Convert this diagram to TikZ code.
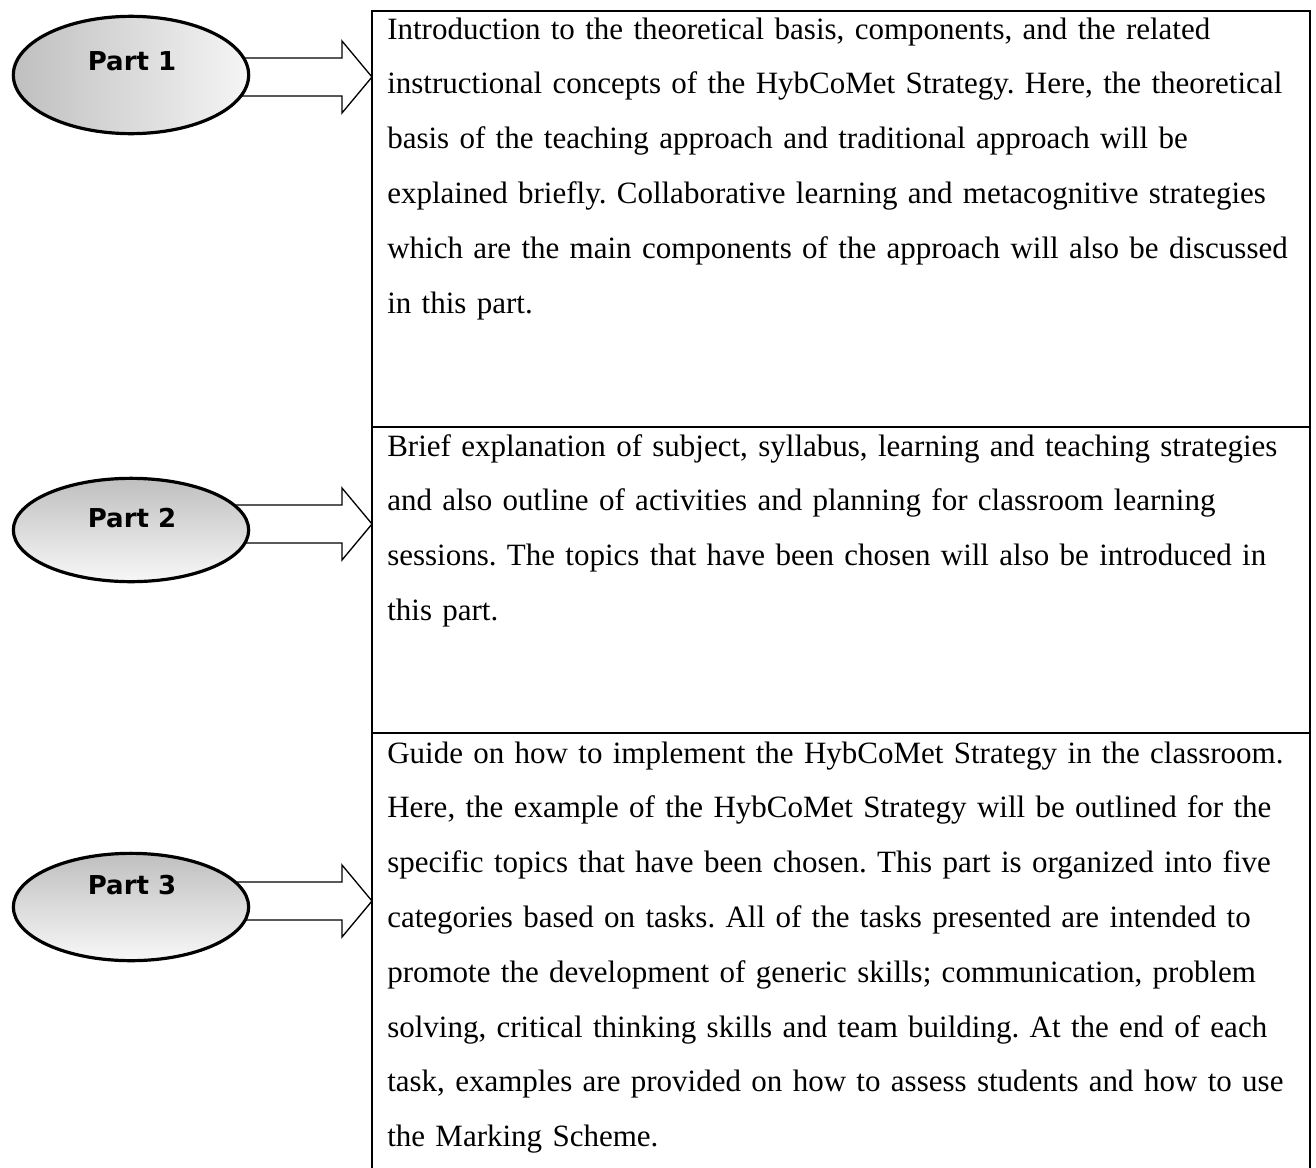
\documentclass[tikz,border=0pt]{standalone}
\usepackage{fontspec}
\setmainfont{Liberation Serif}
\newfontfamily\labelfont{DejaVu Sans}
\usetikzlibrary{shapes.geometric,calc,fit,backgrounds}
\frenchspacing

% block arrow from an oval to a tip point on the table edge
\newcommand\partarrow[2]{%
  \draw[blockarrow] ($(#1.east |- #2)+(-14,-19)$) -- ($(#2)+(-30,-19)$)
    -- ($(#2)+(-30,-36)$) -- (#2) -- ($(#2)+(-30,36)$)
    -- ($(#2)+(-30,19)$) -- ($(#1.east |- #2)+(-14,19)$) -- cycle;}

\begin{document}
\begin{tikzpicture}[x=0.75pt,y=-0.75pt,
  cell/.style={draw, line width=1.5pt, inner sep=0pt},
  celltext/.style={anchor=base west, inner sep=0pt, align=left, text width=720pt,
    font=\fontsize{23.25}{41.1}\selectfont},
  partoval/.style={ellipse, draw, line width=2.4pt, minimum width=176.5pt, inner sep=0pt},
  partlabel/.style={font=\labelfont\bfseries\fontsize{19.5}{23}\selectfont, inner sep=0pt},
  blockarrow/.style={draw, fill=white, line width=1pt, line join=miter}
]
\clip (0,0) rectangle (1316,1167);

% table cells
\node[cell, fit={(372,11) (1310,427)}] (c1) {};
\node[cell, fit={(372,427) (1310,733)}] (c2) {};
\node[cell, fit={(372,733) (1310,1220)}] (c3) {};

% cell texts
\node[celltext] (t1) at (387,39) {Introduction to the theoretical basis, components, and the related\\
instructional concepts of the HybCoMet Strategy. Here, the theoretical\\
basis of the teaching approach and traditional approach will be\\
explained briefly. Collaborative learning and metacognitive strategies\\
which are the main components of the approach will also be discussed\\
in this part.};

\node[celltext] (t2) at (387,456) {Brief explanation of subject, syllabus, learning and teaching strategies\\
and also outline of activities and planning for classroom learning\\
sessions. The topics that have been chosen will also be introduced in\\
this part.};

\node[celltext] (t3) at (387,763) {Guide on how to implement the HybCoMet Strategy in the classroom.\\
Here, the example of the HybCoMet Strategy will be outlined for the\\
specific topics that have been chosen. This part is organized into five\\
categories based on tasks. All of the tasks presented are intended to\\
promote the development of generic skills; communication, problem\\
solving, critical thinking skills and team building. At the end of each\\
task, examples are provided on how to assess students and how to use\\
the Marking Scheme.};

% part ovals
\node[partoval, minimum height=88pt, left color=gray!50, right color=black!4] (e1) at (131,75) {};
\node[partoval, minimum height=77.5pt, top color=gray!50, bottom color=black!3] (e2) at (131,530) {};
\node[partoval, minimum height=80.5pt, top color=gray!50, bottom color=black!3] (e3) at (131,907) {};

\node[partlabel] (p1) at (132,61) {Part 1};
\node[partlabel] (p2) at (132,518) {Part 2};
\node[partlabel] (p3) at (132,885) {Part 3};

% arrow tips on the table edge
\coordinate (h1) at (372,77);
\coordinate (h2) at (372,524);
\coordinate (h3) at (372,901);

\begin{scope}[on background layer]
\partarrow{e1}{h1}
\partarrow{e2}{h2}
\partarrow{e3}{h3}
\end{scope}
\end{tikzpicture}
\end{document}
